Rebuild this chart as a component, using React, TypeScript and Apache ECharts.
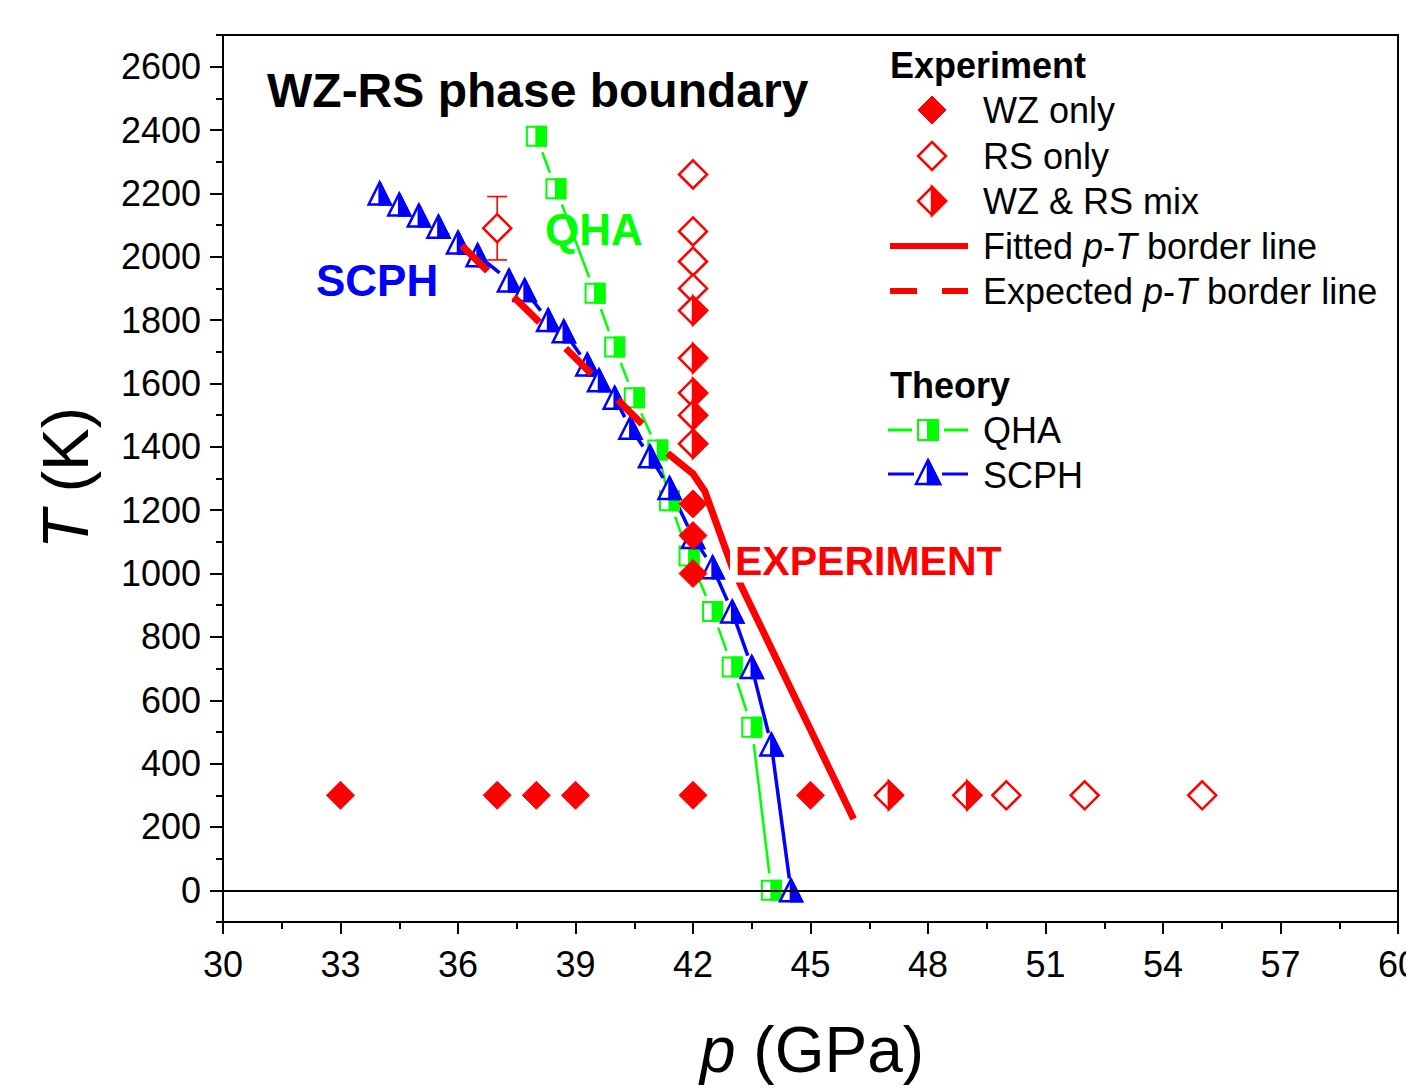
import React, { useEffect, useRef } from "react";
import * as echarts from "echarts";

// ---------------- data ----------------
const qhaP = [38.0, 38.5, 39.5, 40.0, 40.5, 41.1, 41.4, 41.9, 42.5, 43.0, 43.5, 44.0];
const qhaT = [2380, 2215, 1885, 1715, 1555, 1390, 1230, 1055, 880, 705, 515, 0];

const scphP = [34.0, 34.5, 35.0, 35.5, 36.0, 36.5, 37.3, 37.7, 38.3, 38.7, 39.3, 39.6, 40.0, 40.4, 40.9, 41.4, 42.0, 42.5, 43.0, 43.5, 44.0, 44.5];
const scphT = [2200, 2165, 2130, 2095, 2045, 2005, 1925, 1895, 1800, 1765, 1660, 1610, 1555, 1460, 1370, 1270, 1115, 1020, 880, 705, 460, 0];

const wzP = [33, 37, 38, 39, 42, 45, 42, 42, 42];
const wzT = [300, 300, 300, 300, 300, 300, 1000, 1120, 1220];

const rsP = [37, 42, 42, 42, 42, 50, 52, 55];
const rsT = [2090, 2260, 2080, 1985, 1900, 300, 300, 300];

const mixP = [42, 42, 42, 42, 42, 47, 49];
const mixT = [1830, 1680, 1570, 1500, 1410, 300, 300];

const errP = [37];
const errT = [2090];
const errD = [100];

const fittedP = [41.35, 42.0, 42.3, 43.0, 46.1];
const fittedT = [1380, 1315, 1260, 1020, 225];

const expectedP = [36.1, 40.7];
const expectedT = [2035, 1472];

const yTickValues = [0, 200, 400, 600, 800, 1000, 1200, 1400, 1600, 1800, 2000, 2200, 2400, 2600];

// ---------------- styles ----------------
const F = '"Liberation Sans", Arial, Helvetica, sans-serif';
const RED = "#ff0000";
const GREEN = "#00ff00";
const BLUE = "#0000ff";

type Kind = "diamond" | "square" | "triangle";
type Fill = "full" | "hollow" | "half";

function shapePoints(kind: Kind, cx: number, cy: number, s: number) {
  const h = s / 2;
  if (kind === "diamond") {
    return {
      full: [[cx, cy - h], [cx + h, cy], [cx, cy + h], [cx - h, cy]],
      right: [[cx, cy - h], [cx + h, cy], [cx, cy + h]],
    };
  }
  if (kind === "square") {
    return {
      full: [[cx - h, cy - h], [cx + h, cy - h], [cx + h, cy + h], [cx - h, cy + h]],
      right: [[cx, cy - h], [cx + h, cy - h], [cx + h, cy + h], [cx, cy + h]],
    };
  }
  return {
    full: [[cx, cy - h], [cx + h, cy + h], [cx - h, cy + h]],
    right: [[cx, cy - h], [cx + h, cy + h], [cx, cy + h]],
  };
}

function markerGroup(kind: Kind, cx: number, cy: number, s: number, color: string, fill: Fill, lw: number, z?: number) {
  const p = shapePoints(kind, cx, cy, s);
  const children: any[] = [];
  if (fill === "full") {
    children.push({ type: "polygon", shape: { points: p.full }, style: { fill: color, stroke: color, lineWidth: lw } });
  } else {
    children.push({ type: "polygon", shape: { points: p.full }, style: { fill: "#fff", stroke: color, lineWidth: lw } });
    if (fill === "half") {
      children.push({ type: "polygon", shape: { points: p.right }, style: { fill: color, stroke: color, lineWidth: lw } });
    }
  }
  const g: any = { type: "group", children };
  if (z !== undefined) g.z = z;
  return g;
}

function markerSeries(P: number[], T: number[], kind: Kind, color: string, size: number, fill: Fill, lw: number) {
  return {
    type: "custom",
    data: P.map((p, i) => [p, T[i]]),
    encode: { x: 0, y: 1 },
    silent: true,
    renderItem: (params: any, api: any) => {
      const c = api.coord([api.value(0), api.value(1)]);
      return markerGroup(kind, c[0], c[1], size, color, fill, lw);
    },
  };
}

function gapLineSeries(P: number[], T: number[], color: string, width: number, gap: number) {
  const data: number[][] = [];
  for (let i = 0; i < P.length - 1; i++) data.push([P[i], T[i], P[i + 1], T[i + 1]]);
  return {
    type: "custom",
    data,
    encode: { x: [0, 2], y: [1, 3] },
    silent: true,
    renderItem: (params: any, api: any) => {
      const a = api.coord([api.value(0), api.value(1)]);
      const b = api.coord([api.value(2), api.value(3)]);
      const dx = b[0] - a[0];
      const dy = b[1] - a[1];
      const L = Math.hypot(dx, dy);
      if (L <= 2 * gap + 1) return { type: "group", children: [] };
      const ux = dx / L;
      const uy = dy / L;
      return {
        type: "line",
        shape: { x1: a[0] + ux * gap, y1: a[1] + uy * gap, x2: b[0] - ux * gap, y2: b[1] - uy * gap },
        style: { stroke: color, lineWidth: width },
      };
    },
  };
}

function errorBarSeries(P: number[], T: number[], D: number[], color: string) {
  return {
    type: "custom",
    data: P.map((p, i) => [p, T[i], D[i]]),
    encode: { x: 0, y: 1 },
    silent: true,
    renderItem: (params: any, api: any) => {
      const p = api.value(0);
      const t = api.value(1);
      const d = api.value(2);
      const top = api.coord([p, t + d]);
      const bot = api.coord([p, t - d]);
      const cap = 10;
      const st = { stroke: color, lineWidth: 1.6 };
      return {
        type: "group",
        children: [
          { type: "line", shape: { x1: top[0], y1: top[1], x2: bot[0], y2: bot[1] }, style: st },
          { type: "line", shape: { x1: top[0] - cap, y1: top[1], x2: top[0] + cap, y2: top[1] }, style: st },
          { type: "line", shape: { x1: bot[0] - cap, y1: bot[1], x2: bot[0] + cap, y2: bot[1] }, style: st },
        ],
      };
    },
  };
}

function txt(text: string, x: number, y: number, size: number, color: string, bold = false, extra: any = {}) {
  return {
    type: "text",
    x,
    y,
    z: 100,
    style: {
      text,
      fill: color,
      fontSize: size,
      fontFamily: F,
      fontWeight: bold ? "bold" : "normal",
      align: "left",
      verticalAlign: "middle",
      textAlign: "left",
      textVerticalAlign: "middle",
      ...extra,
    },
  };
}

function richTxt(text: string, x: number, y: number, size: number, extra: any = {}, align = "left") {
  return {
    type: "text",
    x,
    y,
    z: 100,
    ...extra,
    style: {
      text,
      fill: "#000",
      fontSize: size,
      fontFamily: F,
      align,
      verticalAlign: "middle",
      textAlign: align,
      textVerticalAlign: "middle",
      rich: {
        i: { fontStyle: "italic", fontSize: size, fontFamily: F, fill: "#000" },
        n: { fontSize: size, fontFamily: F, fill: "#000" },
      },
    },
  };
}

function hline(x1: number, x2: number, y: number, color: string, w: number) {
  return { type: "line", z: 100, shape: { x1, y1: y, x2, y2: y }, style: { stroke: color, lineWidth: w } };
}

export default function App() {
  const ref = useRef<HTMLDivElement>(null);

  useEffect(() => {
    if (!ref.current) return;
    const chart = echarts.init(ref.current, null, { renderer: "svg" });

    const axisLineStyle = { color: "#000", width: 2 };
    const plain = (v: number) => String(v);

    const option: any = {
      animation: false,
      backgroundColor: "#fff",
      grid: {
        left: 223,
        right: 8,
        top: 35,
        bottom: 166,
        show: true,
        borderColor: "#000",
        borderWidth: 2,
        backgroundColor: "transparent",
        containLabel: false,
        outerBoundsMode: "none",
      },
      xAxis: {
        type: "value",
        min: 30,
        max: 60,
        interval: 3,
        axisLine: { show: true, onZero: false, lineStyle: axisLineStyle },
        axisTick: { show: true, length: 12, lineStyle: axisLineStyle },
        minorTick: { show: true, splitNumber: 2, length: 7, lineStyle: axisLineStyle },
        splitLine: { show: false },
        minorSplitLine: { show: false },
        axisLabel: { fontSize: 36, fontFamily: F, color: "#000", margin: 24, formatter: plain, hideOverlap: false },
      },
      yAxis: [
        {
          type: "value",
          min: -100,
          max: 2700,
          interval: 100,
          position: "left",
          axisLine: { show: true, onZero: false, lineStyle: axisLineStyle },
          axisTick: { show: true, length: 7, lineStyle: axisLineStyle },
          splitLine: { show: false },
          axisLabel: { show: false },
        },
        {
          type: "value",
          min: -100,
          max: 2700,
          position: "left",
          offset: 0,
          axisLine: { show: true, onZero: false, lineStyle: axisLineStyle },
          axisTick: { show: true, length: 13, lineStyle: axisLineStyle, customValues: yTickValues },
          splitLine: { show: false },
          axisLabel: { fontSize: 36, fontFamily: F, color: "#000", margin: 22, customValues: yTickValues, formatter: plain },
        },
      ],
      series: [
        gapLineSeries(qhaP, qhaT, GREEN, 2.5, 17),
        gapLineSeries(scphP, scphT, BLUE, 3.5, 12),
        markerSeries(qhaP, qhaT, "square", GREEN, 19, "half", 2),
        markerSeries(scphP, scphT, "triangle", BLUE, 22, "half", 2.5),
        {
          type: "line",
          data: fittedP.map((p, i) => [p, fittedT[i]]),
          showSymbol: false,
          symbol: "none",
          silent: true,
          lineStyle: { color: RED, width: 7, join: "round" },
          markLine: {
            silent: true,
            symbol: ["none", "none"],
            label: { show: false },
            lineStyle: { color: "#000", width: 2, type: "solid" },
            data: [{ yAxis: 0 }],
          },
        },
        {
          type: "line",
          data: expectedP.map((p, i) => [p, expectedT[i]]),
          showSymbol: false,
          symbol: "none",
          silent: true,
          lineStyle: { color: RED, width: 7, type: [36, 37], cap: "butt" },
        },
        errorBarSeries(errP, errT, errD, RED),
        markerSeries(wzP, wzT, "diamond", RED, 28, "full", 1),
        markerSeries(rsP, rsT, "diamond", RED, 28, "hollow", 2.5),
        markerSeries(mixP, mixT, "diamond", RED, 28, "half", 2.5),
      ],
      graphic: [
        txt("WZ-RS phase boundary", 267, 90, 48, "#000", true),
        txt("SCPH", 316, 280, 44, BLUE, true),
        txt("QHA", 545, 229, 44, GREEN, true),
        txt("EXPERIMENT", 730, 561, 41, RED, true, { backgroundColor: "#fff", padding: [0, 2, 2, 5] }),
        // legend
        txt("Experiment", 890, 65, 36, "#000", true),
        markerGroup("diamond", 932, 110, 28, RED, "full", 1, 100),
        txt("WZ only", 983, 110, 36, "#000"),
        markerGroup("diamond", 932, 156, 28, RED, "hollow", 2.5, 100),
        txt("RS only", 983, 156, 36, "#000"),
        markerGroup("diamond", 932, 201, 28, RED, "half", 2.5, 100),
        txt("WZ & RS mix", 983, 201, 36, "#000"),
        hline(890, 968, 246, RED, 6),
        richTxt("{n|Fitted }{i|p}{n|-}{i|T}{n| border line}", 983, 246, 36),
        hline(890, 917, 291, RED, 6),
        hline(942, 968, 291, RED, 6),
        richTxt("{n|Expected }{i|p}{n|-}{i|T}{n| border line}", 983, 291, 36),
        txt("Theory", 890, 385, 36, "#000", true),
        hline(888, 912, 430, GREEN, 3),
        hline(944, 968, 430, GREEN, 3),
        markerGroup("square", 928, 430, 20, GREEN, "half", 2, 100),
        txt("QHA", 983, 430, 36, "#000"),
        hline(888, 914, 474, BLUE, 3),
        hline(942, 968, 474, BLUE, 3),
        markerGroup("triangle", 928, 472, 24, BLUE, "half", 2.5, 100),
        txt("SCPH", 983, 475, 36, "#000"),
        // axis titles
        richTxt("{i|p}{n| (GPa)}", 812, 1050, 64, {}, "center"),
        richTxt("{i|T}{n| (K)}", 66, 478, 64, { rotation: Math.PI / 2 }, "center"),
      ],
    };

    chart.setOption(option);
    return () => chart.dispose();
  }, []);

  return (
    <div
      ref={ref}
      style={{ position: "absolute", left: 0, top: 0, width: 1406, height: 1088, background: "#fff" }}
    />
  );
}
